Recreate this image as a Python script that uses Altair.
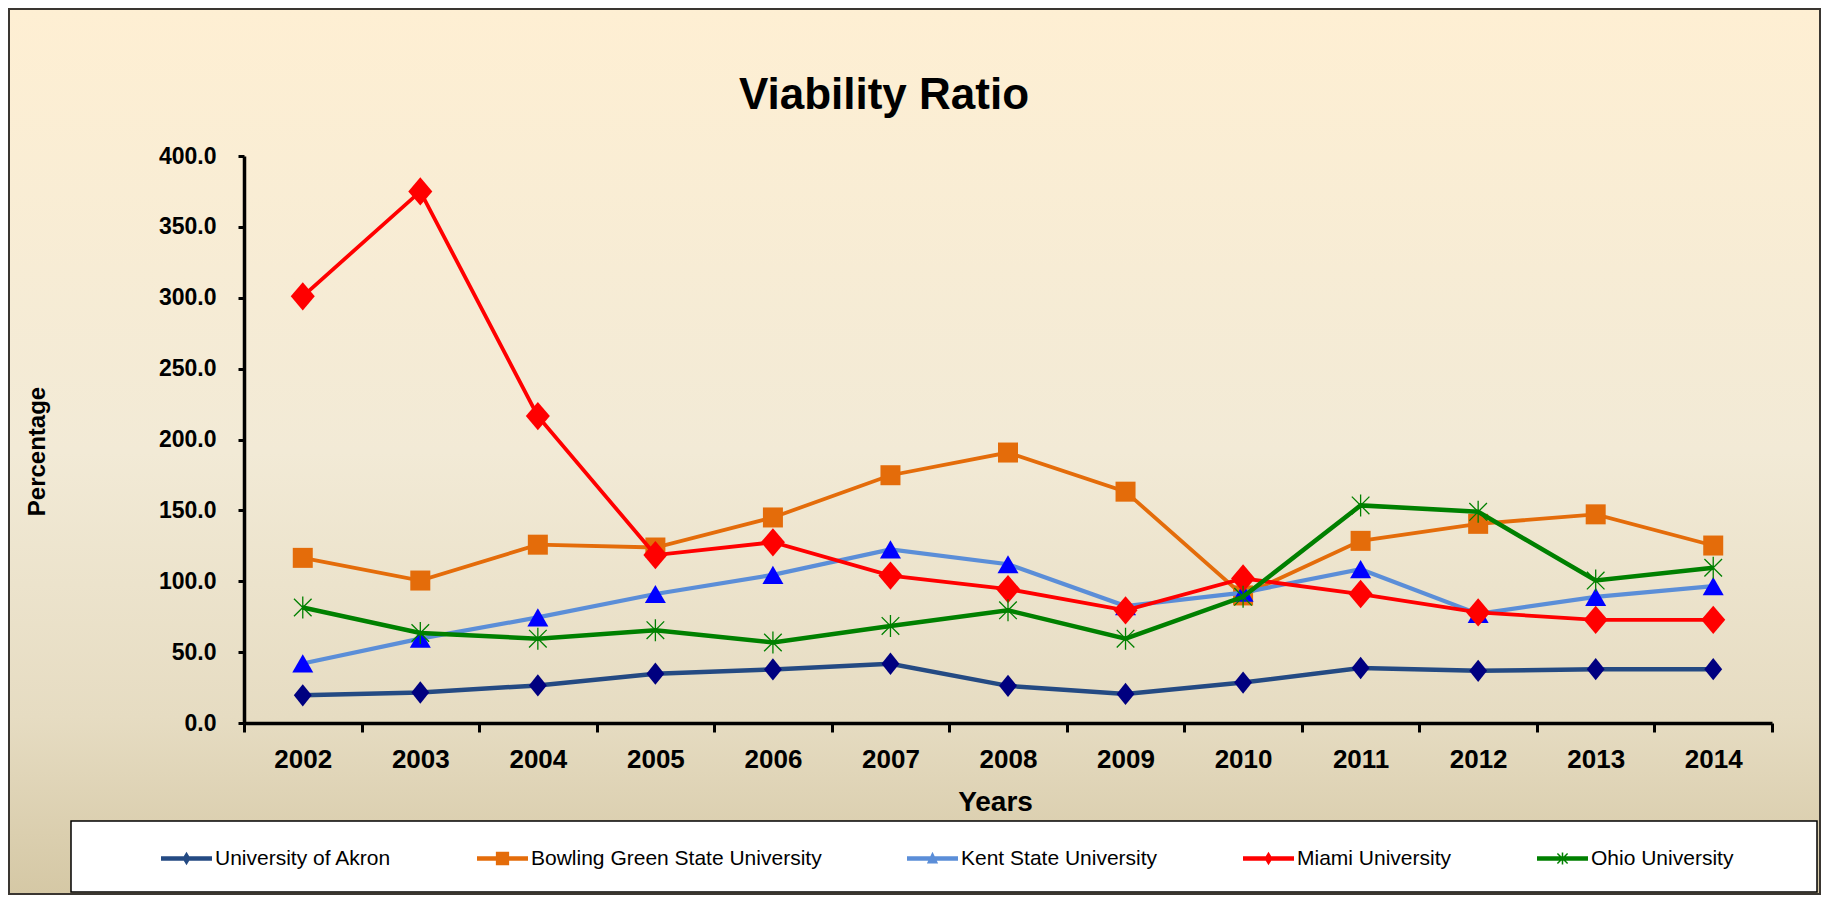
import altair as alt
import pandas as pd

# ---------------- data ----------------
years = [2002, 2003, 2004, 2005, 2006, 2007, 2008, 2009, 2010, 2011, 2012, 2013, 2014]
series_names = [
    "University of Akron",
    "Bowling Green State University",
    "Kent State University",
    "Miami University",
    "Ohio University",
]
akron = [19.5, 21.5, 26.5, 34.8, 37.8, 41.8, 26.2, 20.5, 28.5, 38.8, 36.8, 38.0, 38.0]
bgsu = [116.5, 100.5, 125.8, 123.8, 145.0, 174.8, 190.8, 163.2, 90.0, 128.5, 140.5, 147.2, 125.2]
kent = [42.0, 59.5, 74.5, 91.0, 104.5, 122.5, 112.0, 82.5, 92.0, 108.5, 77.0, 89.0, 96.5]
miami = [301.0, 375.0, 216.5, 118.5, 127.5, 104.0, 94.5, 79.5, 102.0, 91.0, 78.0, 72.8, 72.8]
ohio = [81.5, 63.5, 59.5, 65.5, 56.8, 68.5, 79.5, 59.5, 89.0, 153.5, 149.0, 100.5, 109.5]
y_ticks = [0, 50, 100, 150, 200, 250, 300, 350, 400]

series_values = [akron, bgsu, kent, miami, ohio]
rows = []
for name, vals in zip(series_names, series_values):
    for yr, v in zip(years, vals):
        rows.append({"series": name, "year": str(yr), "value": v})
df = pd.DataFrame(rows)

# ---------------- styles ----------------
FONT = "Liberation Sans, Arial, sans-serif"
line_colors = ["#244A83", "#E46C0A", "#5B8ED8", "#FF0000", "#008000"]
line_widths = [4.5, 3.8, 4.2, 3.8, 4.5]
marker_colors = ["#000080", "#E46C0A", "#0000FF", "#FF0000", "#008000"]
marker_shapes = [
    "M0,-1L0.8,0L0,1L-0.8,0Z",
    "square",
    "triangle-up",
    "M0,-1L0.85,0L0,1L-0.85,0Z",
    "M0,-1V1M-0.8,-0.8L0.8,0.8M-0.8,0.8L0.8,-0.8",
]
marker_sizes = [500, 400, 441, 800, 484]
marker_filled = [True, True, True, True, False]

bar = "M-1,-0.09H1V0.09H-1Z "
legend_paths = [
    bar + "M0,-0.26L0.16,0L0,0.26L-0.16,0Z",
    bar + "M-0.26,-0.26H0.26V0.26H-0.26Z",
    bar + "M0,-0.26L0.22,0.2H-0.22Z",
    bar + "M0,-0.26L0.16,0L0,0.26L-0.16,0Z",
    bar + "M-0.03,-0.24H0.03V0.24H-0.03Z "
          "M-0.22,-0.18L-0.18,-0.22L0.22,0.18L0.18,0.22Z "
          "M0.18,-0.22L0.22,-0.18L-0.18,0.22L-0.22,0.18Z",
]

x_enc = alt.X(
    "year:O",
    bandPosition=0.5,
    scale=alt.Scale(type="band", paddingInner=0, paddingOuter=0),
    axis=alt.Axis(
        title="Years",
        labelAngle=0,
        tickBand="extent",
        labelFont=FONT,
        labelFontSize=26,
        labelFontWeight="bold",
        labelColor="black",
        labelPadding=14,
        tickSize=9,
        tickWidth=3,
        tickColor="black",
        domainColor="black",
        domainWidth=3.5,
        titleFont=FONT,
        titleFontSize=28,
        titleFontWeight="bold",
        titleColor="black",
        titlePadding=16,
        titleX=751,
        titleAlign="center",
        grid=False,
        zindex=1,
    ),
)
y_enc = alt.Y(
    "value:Q",
    scale=alt.Scale(domain=[0, 400], nice=False),
    axis=alt.Axis(
        title="Percentage",
        values=y_ticks,
        format=".1f",
        labelFont=FONT,
        labelFontSize=23,
        labelFontWeight="bold",
        labelColor="black",
        labelPadding=22,
        tickSize=6,
        tickWidth=3,
        tickColor="black",
        domainColor="black",
        domainWidth=3.5,
        titleFont=FONT,
        titleFontSize=24,
        titleFontWeight="bold",
        titleColor="black",
        titleX=-207,
        titleY=295,
        titleAngle=270,
        titleAlign="center",
        titleBaseline="middle",
        grid=False,
        zindex=1,
    ),
)

one = pd.DataFrame({"k": [0]})
background = alt.Chart(one).mark_rect(
    fill=alt.LinearGradient(
        gradient="linear",
        stops=[
            alt.GradientStop(color="#FEEFD3", offset=0),
            alt.GradientStop(color="#F2EAD6", offset=0.5),
            alt.GradientStop(color="#E6DCC2", offset=0.8),
            alt.GradientStop(color="#D5C8A5", offset=1),
        ],
        x1=0, x2=0, y1=0, y2=1,
    ),
    stroke="#3A3631",
    strokeWidth=2,
).encode(x=alt.value(-235), x2=alt.value(1576), y=alt.value(-147), y2=alt.value(738))

legend_box = alt.Chart(one).mark_rect(
    fill="white", stroke="black", strokeWidth=1.5
).encode(x=alt.value(-173), x2=alt.value(1573), y=alt.value(665), y2=alt.value(736))

layers = [background, legend_box]
for i, name in enumerate(series_names):
    sub = alt.Chart(df).transform_filter(alt.datum.series == name)
    layers.append(
        sub.mark_line(color=line_colors[i], strokeWidth=line_widths[i]).encode(x=x_enc, y=y_enc)
    )
    if marker_filled[i]:
        pt = sub.mark_point(
            shape=marker_shapes[i], size=marker_sizes[i], filled=True,
            fill=marker_colors[i], strokeWidth=0, opacity=1,
        )
    else:
        pt = sub.mark_point(
            shape=marker_shapes[i], size=marker_sizes[i], filled=False,
            stroke=marker_colors[i], strokeWidth=1.3, opacity=1,
        )
    layers.append(pt.encode(x=x_enc, y=y_enc))

leg = alt.Legend(
    title=None,
    orient="none",
    legendX=-83,
    legendY=677,
    direction="horizontal",
    columns=5,
    gridAlign="none",
    columnPadding=85,
    padding=0,
    labelFont=FONT,
    labelFontSize=21,
    labelColor="black",
    labelOffset=3,
    labelLimit=400,
    symbolSize=2601,
    symbolStrokeWidth=0,
    symbolOpacity=1,
)
legend_layer = alt.Chart(df).mark_point(filled=True, opacity=0).encode(
    x=x_enc,
    y=y_enc,
    color=alt.Color("series:N", scale=alt.Scale(domain=series_names, range=line_colors), legend=leg),
    shape=alt.Shape("series:N", scale=alt.Scale(domain=series_names, range=legend_paths), legend=leg),
)
layers.append(legend_layer)

chart = alt.layer(*layers).properties(
    width=1528,
    height=567,
    autosize=alt.AutoSizeParams(type="none"),
    padding={"left": 236, "top": 148, "right": 49, "bottom": 173},
    title=alt.TitleParams(
        "Viability Ratio",
        font=FONT,
        fontSize=44,
        fontWeight="bold",
        color="black",
        anchor="middle",
        baseline="alphabetic",
        offset=0,
        dx=-124,
        dy=145,
    ),
).configure_view(stroke=None).configure(background="white")

chart.save("out.html", embed_options={"renderer": "svg", "actions": False})
